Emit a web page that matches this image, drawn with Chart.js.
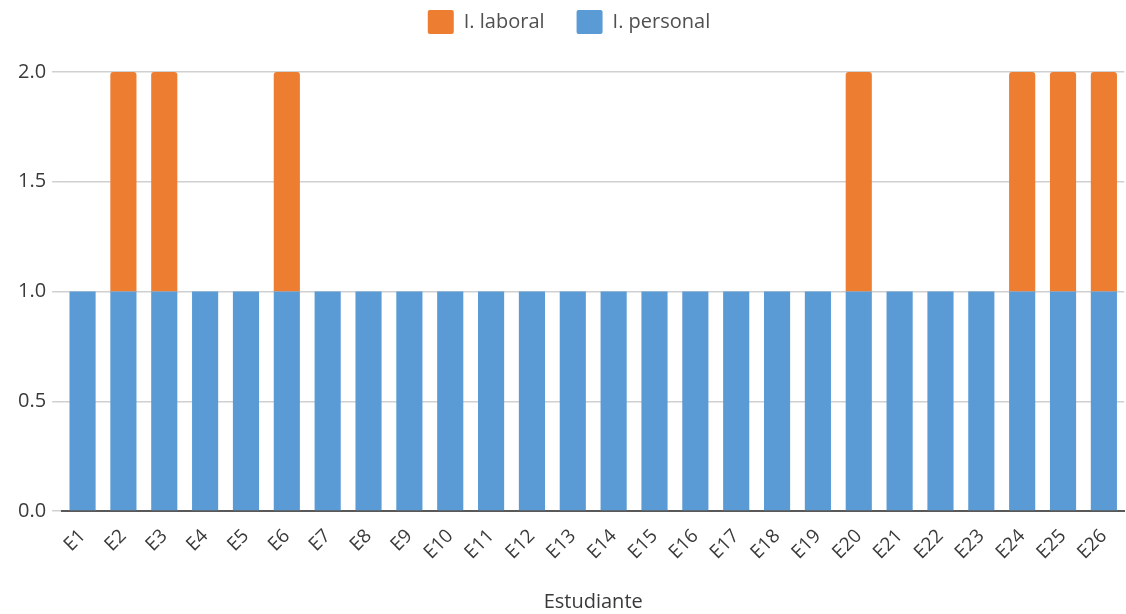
<!DOCTYPE html>
<html>
<head>
<meta charset="utf-8">
<script src="https://cdn.jsdelivr.net/npm/chart.js@4"></script>
<style>
  html, body { margin: 0; padding: 0; background: #fff; }
  #wrap { width: 1126px; height: 614px; }
</style>
</head>
<body>
<div id="wrap"><canvas id="estChart"></canvas></div>
<script>
const students = ['E1', 'E2', 'E3', 'E4', 'E5', 'E6', 'E7', 'E8', 'E9', 'E10', 'E11', 'E12', 'E13',
    'E14', 'E15', 'E16', 'E17', 'E18', 'E19', 'E20', 'E21', 'E22', 'E23', 'E24', 'E25', 'E26'];
const personal = [1, 1, 1, 1, 1, 1, 1, 1, 1, 1, 1, 1, 1, 1, 1, 1, 1, 1, 1, 1, 1, 1, 1, 1, 1, 1];
const laboral = [0, 1, 1, 0, 0, 1, 0, 0, 0, 0, 0, 0, 0, 0, 0, 0, 0, 0, 0, 1, 0, 0, 0, 1, 1, 1];
const yTicks = [0, 0.5, 1, 1.5, 2];

document.addEventListener('DOMContentLoaded', function () {
    Chart.defaults.font.family = '"Open Sans", sans-serif';
    Chart.defaults.color = '#3a3a3a';

    // push the plot down a bit below the legend
    const legendGap = {
        id: 'legendGap',
        beforeInit(chart) {
            const fit = chart.legend.fit;
            chart.legend.fit = function () {
                fit.bind(chart.legend)();
                this.height += 28;
            };
        }
    };

    const ctx = document.getElementById('estChart').getContext('2d');
    new Chart(ctx, {
        type: 'bar',
        data: {
            labels: students,
            datasets: [
                {
                    label: 'I. personal',
                    backgroundColor: '#5B9BD5',
                    data: personal,
                    barPercentage: 0.64,
                    categoryPercentage: 1
                },
                {
                    label: 'I. laboral',
                    backgroundColor: '#ED7D31',
                    data: laboral,
                    barPercentage: 0.64,
                    categoryPercentage: 1,
                    borderRadius: { topLeft: 3, topRight: 3 },
                    borderSkipped: 'bottom'
                }
            ]
        },
        plugins: [legendGap],
        options: {
            responsive: true,
            maintainAspectRatio: false,
            animation: false,
            layout: { padding: { left: 12, right: 0, top: -22, bottom: 0 } },
            plugins: {
                legend: {
                    position: 'top',
                    reverse: true,
                    labels: {
                        boxWidth: 26,
                        boxHeight: 24,
                        padding: 32,
                        color: '#505050',
                        font: { size: 20 },
                        useBorderRadius: true,
                        borderRadius: 2
                    }
                },
                tooltip: { enabled: false }
            },
            scales: {
                x: {
                    stacked: true,
                    grid: { display: false },
                    border: { display: true, color: '#595959', width: 2 },
                    ticks: {
                        font: { size: 19 },
                        maxRotation: 45,
                        minRotation: 45,
                        padding: 6
                    },
                    title: {
                        display: true,
                        text: 'Estudiante',
                        font: { size: 20 },
                        padding: { top: 20, bottom: 0 }
                    }
                },
                y: {
                    stacked: true,
                    min: 0,
                    max: 2,
                    afterBuildTicks: function (axis) {
                        axis.ticks = yTicks.map(v => ({ value: v }));
                    },
                    grid: { color: '#d0d0d0', lineWidth: 1.5, tickLength: 10 },
                    border: { display: false },
                    ticks: {
                        font: { size: 20 },
                        padding: 6,
                        callback: v => v.toFixed(1)
                    }
                }
            }
        }
    });
});
</script>
</body>
</html>
